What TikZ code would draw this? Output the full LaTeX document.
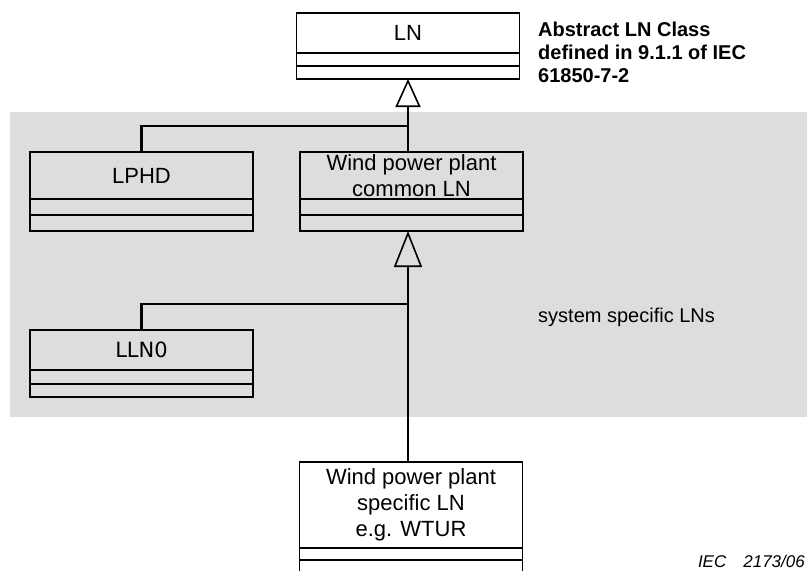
\documentclass[tikz,border=0pt]{standalone}
\usepackage{fontspec}
\setmainfont{Liberation Sans}
\newfontfamily\llnfont{DejaVu Sans}
\definecolor{sysgray}{RGB}{221,221,221}
\usetikzlibrary{arrows.meta, positioning}

\begin{document}
\begin{tikzpicture}[x=1pt, y=-1pt,
  cname/.style={draw, line width=1.6pt, outer sep=0pt, inner sep=0pt, minimum width=223pt, align=center, font=\fontsize{22}{26}\selectfont},
  ccomp/.style={draw, line width=1.6pt, outer sep=0pt, inner sep=0pt, minimum width=223pt},
  conn/.style={line width=2.8pt},
  note/.style={inner sep=0pt, align=left}
]
  \useasboundingbox (0,0) rectangle (807,571);
  \clip (0,0) rectangle (807,571);
  \fill[sysgray] (10,112) rectangle (807,417);

  \node[cname, minimum height=40pt] (ln) at (408,33) {LN};
  \node[ccomp, minimum height=13pt, below=0pt of ln] (ln-a) {};
  \node[ccomp, minimum height=13pt, below=0pt of ln-a] (ln-b) {};

  \node[cname, minimum height=47pt] (lphd) at (141.5,175.5) {LPHD};
  \node[ccomp, minimum height=16pt, below=0pt of lphd] (lphd-a) {};
  \node[ccomp, minimum height=16pt, below=0pt of lphd-a] (lphd-b) {};

  \node[cname, minimum height=47pt] (wpc) at (411.5,175.5) {Wind power plant\\common LN};
  \node[ccomp, minimum height=16pt, below=0pt of wpc] (wpc-a) {};
  \node[ccomp, minimum height=16pt, below=0pt of wpc-a] (wpc-b) {};

  \node[cname, minimum height=40pt, font=\llnfont\fontsize{21}{26}\selectfont] (lln) at (141.5,350) {LLN0};
  \node[ccomp, minimum height=14pt, below=0pt of lln] (lln-a) {};
  \node[ccomp, minimum height=13pt, below=0pt of lln-a] (lln-b) {};

  \node[cname, minimum height=86pt] (wps) at (411,505) {Wind power plant\\specific LN\\e.g. WTUR};
  \node[ccomp, minimum height=12pt, below=0pt of wps] (wps-a) {};
  \node[ccomp, minimum height=20pt, below=0pt of wps-a] (wps-b) {};

  \coordinate (j1) at (408,126);
  \coordinate (j2) at (408,304);
  \draw[conn, -{Triangle[open, length=28pt, width=25pt, line width=1.6pt]}] (ln-b.south |- wpc.north) -- (ln-b.south);
  \draw[conn] (lphd.north) |- (j1);
  \draw[conn, -{Triangle[open, length=36pt, width=28pt, line width=1.6pt]}] (ln-b.south |- wps.north) -- (ln-b.south |- wpc-b.south);
  \draw[conn] (lln.north) |- (j2);

  \node[note, anchor=north west, font=\bfseries\fontsize{20}{23}\selectfont] (abs) at (538,21.5) {Abstract LN Class\\defined in 9.1.1 of IEC\\61850-7-2};
  \node[note, anchor=base west, font=\fontsize{20}{24}\selectfont] (sys) at (538,322) {system specific LNs};
  \node[note, anchor=base east, font=\itshape\fontsize{17}{20}\selectfont] (fig) at (805,567) {IEC\quad 2173/06};
\end{tikzpicture}
\end{document}
